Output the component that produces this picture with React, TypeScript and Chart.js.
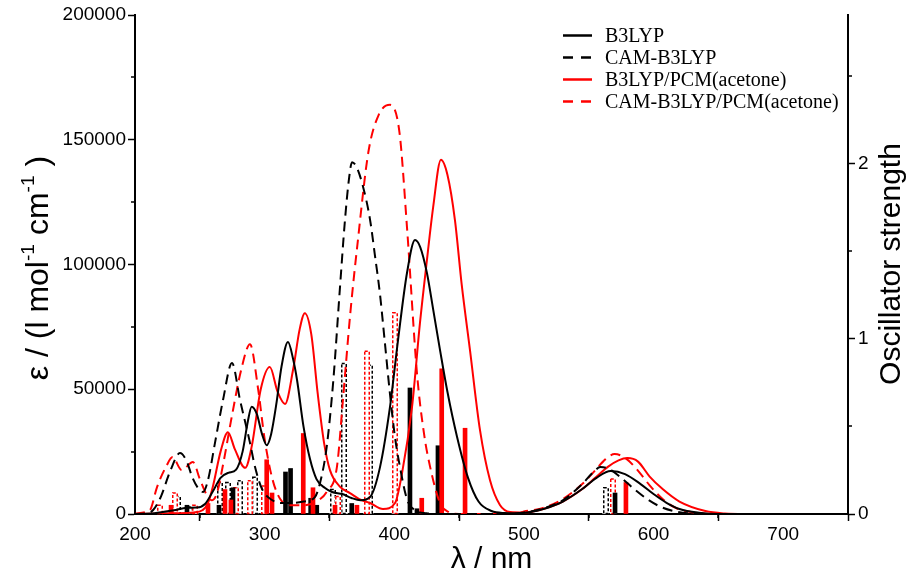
import React, { useEffect, useRef } from "react";
import { Chart, registerables } from "chart.js";

Chart.register(...registerables);

// ---------- tick labels ----------
const xTicks = [200, 300, 400, 500, 600, 700];
const xMinorTicks = [250, 350, 450, 550, 650];
const yTicks = [0, 50000, 100000, 150000, 200000];
const yMinorTicks = [25000, 75000, 125000, 175000];
const fTicks = [0, 1, 2];
const fMinorTicks = [0.5, 1.5, 2.5];

const legendLabels = ["B3LYP", "CAM-B3LYP", "B3LYP/PCM(acetone)", "CAM-B3LYP/PCM(acetone)"];

// ---------- broadened spectra (wavelength nm, epsilon) ----------
const b3lypWl = [200, 215, 230, 240, 248, 254, 260, 266, 272, 278, 283, 287, 290, 294, 298, 301.6, 305, 309, 313, 318, 322, 325, 330, 335, 340, 346.6, 352, 360, 367, 374, 381.3, 389, 396.7, 402.9, 409.8, 416, 420, 425.2, 430, 435.3, 441, 448.4, 456.9, 465, 475, 485, 495, 505, 515, 530, 545, 556, 567, 578, 590, 600, 610, 620, 635, 650, 750];
const b3lypEps = [0, 300, 1500, 2500, 2600, 4000, 9000, 14500, 16500, 17800, 25000, 37000, 43000, 40000, 32000, 27600, 32000, 44000, 59000, 68900, 62000, 53700, 35000, 22000, 14000, 10400, 8800, 8000, 6400, 5500, 6800, 18800, 42900, 69700, 96600, 109800, 107000, 96600, 82000, 65700, 49000, 31000, 14500, 5000, 1200, 400, 300, 800, 2000, 5000, 10000, 14500, 17200, 16000, 12000, 8000, 4500, 2000, 500, 0, 0];

const camWl = [200, 210, 214, 220, 227, 234.7, 240, 244, 248.6, 252.5, 256.3, 261.7, 267.9, 274.8, 281, 288.7, 292.6, 298, 305.7, 313.4, 320, 330, 338.8, 343, 347.9, 353, 358, 362, 365, 367.4, 371, 376, 381.3, 385, 389, 392.5, 396.7, 400.5, 404.4, 410, 416, 425, 435, 490, 500, 512, 530, 545, 553, 559, 566, 575, 585, 595, 605, 617, 630, 645, 750];
const camEps = [0, 300, 1600, 7000, 17000, 24400, 21000, 15000, 10400, 8800, 13600, 28500, 45700, 60500, 45700, 28500, 18800, 10000, 5600, 4400, 4400, 5000, 6800, 13000, 27000, 53700, 90000, 118000, 134000, 141000, 139000, 131000, 118000, 104000, 88000, 70000, 48000, 31000, 18800, 5600, 1500, 300, 0, 0, 600, 1800, 5500, 12000, 16500, 18800, 18000, 14500, 10000, 6000, 3000, 1000, 200, 0, 0];

const pcmWl = [200, 230, 245, 252, 256, 260, 266, 271.7, 277, 285, 290, 297, 304, 310, 315.7, 322, 327, 331, 336, 341, 346, 350.4, 358, 365.8, 373, 381.3, 391.3, 400.6, 406, 413.7, 419.8, 425.2, 430, 436, 441, 446.8, 452, 458.4, 466.1, 473.8, 481.5, 489.3, 500, 512, 530, 545, 555, 565, 573, 580, 588, 597, 607, 620, 640, 655, 670, 750];
const pcmEps = [0, 300, 600, 1500, 4000, 10800, 25000, 32800, 26000, 18500, 27000, 50000, 58900, 49000, 44100, 58000, 74000, 80500, 72000, 48000, 28000, 17600, 11000, 8400, 6000, 4400, 2000, 4400, 16400, 42900, 76500, 101800, 123000, 142000, 136000, 117800, 92000, 65700, 33700, 13600, 3600, 800, 600, 1600, 5000, 10000, 14500, 19000, 21500, 22400, 21000, 15000, 10000, 5000, 1200, 200, 0, 0];

const camPcmWl = [200, 208, 211.6, 217, 224, 229, 236, 244.7, 250, 255, 259, 263, 268, 275, 282, 288.7, 295, 300, 306, 312, 320, 330, 340, 348, 355.8, 360.4, 366, 372, 380, 388, 396.7, 404, 409.8, 417.5, 423, 427.6, 435.3, 442, 450, 495, 500, 512, 530, 545, 555, 563, 570, 578, 587, 597, 607, 617, 630, 645, 750];
const camPcmEps = [0, 800, 1600, 10800, 19000, 22800, 17600, 20800, 14000, 8000, 5500, 8000, 20000, 40000, 58000, 68000, 50000, 30000, 14000, 6000, 3500, 3500, 5000, 9000, 19000, 45700, 80000, 110000, 145000, 160000, 164000, 153000, 115000, 56500, 32000, 19000, 4400, 800, 0, 0, 1000, 2000, 6000, 12000, 17500, 22000, 24000, 22500, 18000, 11500, 6000, 2500, 700, 0, 0];

// ---------- stick spectra (wavelength nm, oscillator strength) ----------
const b3lypStickWl = [240.1, 264.8, 275.6, 316.1, 320.0, 335.5, 340.2, 367.2, 412.1, 417.5, 433.7, 570.3];
const b3lypStickF = [0.05, 0.05, 0.15, 0.24, 0.26, 0.09, 0.05, 0.06, 0.72, 0.03, 0.39, 0.12];

const camStickWl = [233.2, 242.4, 265.6, 271.7, 281.0, 292.6, 352.7, 361.6, 381.3, 563.1];
const camStickF = [0.10, 0.04, 0.18, 0.18, 0.19, 0.21, 0.14, 0.86, 0.85, 0.15];

const pcmStickWl = [227.8, 256.3, 269.4, 274.0, 301.6, 305.7, 329.8, 337.3, 354.3, 371.2, 421.2, 436.6, 454.6, 578.7];
const pcmStickF = [0.05, 0.06, 0.14, 0.08, 0.31, 0.12, 0.46, 0.15, 0.05, 0.05, 0.09, 0.83, 0.49, 0.18];

const camPcmStickWl = [219.3, 230.9, 246.3, 278.0, 288.7, 299.5, 356.6, 378.7, 400.6, 569.0];
const camPcmStickF = [0.05, 0.12, 0.05, 0.15, 0.19, 0.16, 0.10, 0.93, 1.15, 0.20];

const SANS = "'Liberation Sans', Arial, Helvetica, sans-serif";
const SERIF = "'Liberation Serif', 'Times New Roman', Times, serif";

const pts = (xs: number[], ys: number[]) => xs.map((x, i) => ({ x, y: ys[i] }));

const curveDefs = [
  { label: legendLabels[0], wl: b3lypWl, eps: b3lypEps, color: "#000000", dashed: false },
  { label: legendLabels[1], wl: camWl, eps: camEps, color: "#000000", dashed: true },
  { label: legendLabels[2], wl: pcmWl, eps: pcmEps, color: "#ff0000", dashed: false },
  { label: legendLabels[3], wl: camPcmWl, eps: camPcmEps, color: "#ff0000", dashed: true },
];

const stickDefs = [
  { wl: camStickWl, f: camStickF, color: "#000000", dashed: true },
  { wl: camPcmStickWl, f: camPcmStickF, color: "#ff0000", dashed: true },
  { wl: b3lypStickWl, f: b3lypStickF, color: "#000000", dashed: false },
  { wl: pcmStickWl, f: pcmStickF, color: "#ff0000", dashed: false },
];

function drawRich(ctx: CanvasRenderingContext2D, parts: { t: string; sup?: boolean }[], size: number) {
  const supSize = size * 0.6;
  const widths = parts.map((p) => {
    ctx.font = `${p.sup ? supSize : size}px ${SANS}`;
    return ctx.measureText(p.t).width;
  });
  const total = widths.reduce((a, b) => a + b, 0);
  let x = -total / 2;
  parts.forEach((p, i) => {
    ctx.font = `${p.sup ? supSize : size}px ${SANS}`;
    ctx.fillText(p.t, x, p.sup ? -size * 0.45 : 0);
    x += widths[i];
  });
}

const decorPlugin = {
  id: "decor",
  afterDatasetDraw(chart: any, args: any) {
    const ds = chart.data.datasets[args.index] as any;
    if (!ds.dashOutline) return;
    const ctx: CanvasRenderingContext2D = chart.ctx;
    ctx.save();
    ctx.strokeStyle = ds.dashOutline;
    ctx.lineWidth = 1.5;
    ctx.setLineDash([3, 2]);
    for (const el of args.meta.data) {
      const p = el.getProps(["x", "y", "base", "width"], true);
      const left = Math.round(p.x - p.width / 2) + 0.75;
      ctx.strokeRect(left, p.y, p.width - 1.5, p.base - p.y);
    }
    ctx.restore();
  },
  afterDraw(chart: any) {
    const ctx: CanvasRenderingContext2D = chart.ctx;
    const xs = chart.scales.x;
    const ys = chart.scales.y;
    const fs = chart.scales.y2;
    ctx.save();
    // minor ticks
    ctx.strokeStyle = "#000";
    ctx.lineWidth = 1.5;
    ctx.beginPath();
    xMinorTicks.forEach((v) => {
      const px = Math.round(xs.getPixelForValue(v));
      ctx.moveTo(px, xs.top);
      ctx.lineTo(px, xs.top + 4);
    });
    yMinorTicks.forEach((v) => {
      const py = Math.round(ys.getPixelForValue(v));
      ctx.moveTo(ys.right, py);
      ctx.lineTo(ys.right - 4, py);
    });
    fMinorTicks.forEach((v) => {
      const py = Math.round(fs.getPixelForValue(v));
      ctx.moveTo(fs.left, py);
      ctx.lineTo(fs.left + 4, py);
    });
    ctx.stroke();

    // axis titles
    ctx.fillStyle = "#000";
    ctx.textBaseline = "alphabetic";
    ctx.textAlign = "left";
    ctx.font = `30px ${SANS}`;
    const xTitle = "λ / nm";
    const wT = ctx.measureText(xTitle).width;
    ctx.fillText(xTitle, (xs.left + xs.right) / 2 - wT / 2, 568);

    ctx.save();
    ctx.translate(48, 268);
    ctx.rotate(-Math.PI / 2);
    drawRich(ctx, [
      { t: "ε / (l mol" },
      { t: "-1", sup: true },
      { t: " cm" },
      { t: "-1", sup: true },
      { t: " )" },
    ], 32);
    ctx.restore();

    ctx.save();
    ctx.translate(900, 264);
    ctx.rotate(-Math.PI / 2);
    drawRich(ctx, [{ t: "Oscillator strength" }], 30);
    ctx.restore();

    // legend
    ctx.font = `20px ${SERIF}`;
    ctx.textBaseline = "middle";
    curveDefs.forEach((c, i) => {
      const y = 35.5 + i * 22;
      ctx.beginPath();
      ctx.setLineDash(c.dashed ? [10, 8] : []);
      ctx.strokeStyle = c.color;
      ctx.lineWidth = 2.5;
      ctx.moveTo(563, y);
      ctx.lineTo(592, y);
      ctx.stroke();
      ctx.setLineDash([]);
      ctx.fillStyle = "#000";
      ctx.fillText(c.label, 605, y + 1);
    });
    ctx.restore();
  },
};

export default function App() {
  const ref = useRef<HTMLCanvasElement | null>(null);

  useEffect(() => {
    if (!ref.current) return;
    const lineSets: any[] = curveDefs.map((c) => ({
      type: "line",
      label: c.label,
      data: pts(c.wl, c.eps),
      xAxisID: "x",
      yAxisID: "y",
      borderColor: c.color,
      borderWidth: 2,
      borderDash: c.dashed ? [10, 6] : [],
      pointRadius: 0,
      fill: false,
      cubicInterpolationMode: "monotone",
      order: 0,
    }));
    const barSets: any[] = stickDefs.map((s, i) => ({
      type: "bar",
      label: "sticks" + i,
      data: pts(s.wl, s.f),
      xAxisID: "x",
      yAxisID: "y2",
      backgroundColor: s.dashed ? "#ffffff" : s.color,
      borderWidth: 0,
      barThickness: s.dashed ? 6 : 4,
      grouped: false,
      dashOutline: s.dashed ? s.color : undefined,
      order: 10 - i,
    }));

    const tickFont = { family: SANS, size: 19 };
    const gridOpts = {
      display: true,
      drawOnChartArea: false,
      drawTicks: true,
      tickLength: 7,
      tickColor: "#000",
      tickWidth: 1.5,
    };
    const borderOpts = { display: true, color: "#000", width: 2 };

    const chart = new Chart(ref.current, {
      type: "line",
      data: { datasets: [...lineSets, ...barSets] },
      options: {
        animation: false,
        responsive: false,
        devicePixelRatio: 1,
        layout: { padding: { top: 15, right: 0, bottom: 0, left: 0 } },
        plugins: { legend: { display: false }, tooltip: { enabled: false } },
        scales: {
          x: {
            type: "linear",
            position: "bottom",
            min: 200,
            max: 750,
            offset: false,
            afterBuildTicks: (s: any) => { s.ticks = xTicks.map((v) => ({ value: v })); },
            afterFit: (s: any) => { s.height = 60; },
            ticks: { font: tickFont, color: "#000", padding: 2, maxRotation: 0, autoSkip: false, callback: (v: any) => String(v) },
            grid: gridOpts,
            border: borderOpts,
          },
          y: {
            type: "linear",
            position: "left",
            min: 0,
            max: 200000,
            afterBuildTicks: (s: any) => { s.ticks = yTicks.map((v) => ({ value: v })); },
            afterFit: (s: any) => { s.width = 135; },
            ticks: { font: tickFont, color: "#000", padding: 2, callback: (v: any) => String(v) },
            grid: gridOpts,
            border: borderOpts,
          },
          y2: {
            type: "linear",
            position: "right",
            min: 0,
            max: 2.851,
            afterBuildTicks: (s: any) => { s.ticks = fTicks.map((v) => ({ value: v })); },
            afterFit: (s: any) => { s.width = 61; },
            ticks: { font: tickFont, color: "#000", padding: 3, callback: (v: any) => String(v) },
            grid: gridOpts,
            border: borderOpts,
          },
        },
      } as any,
      plugins: [decorPlugin as any],
    });
    return () => chart.destroy();
  }, []);

  return (
    <div style={{ position: "fixed", left: 0, top: 0, width: 909, height: 574, background: "#fff" }}>
      <canvas ref={ref} width={909} height={574} style={{ width: 909, height: 574 }} />
    </div>
  );
}
